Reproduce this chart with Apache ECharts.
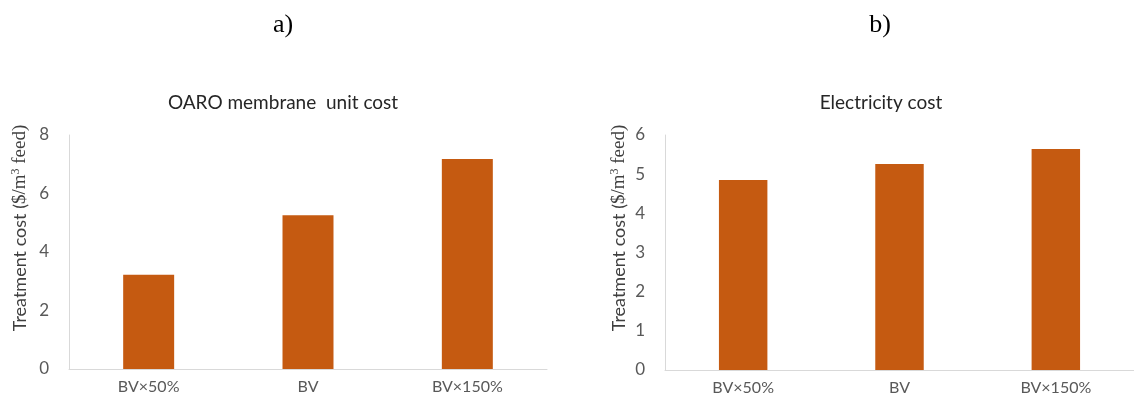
<!DOCTYPE html>
<html>
<head>
<meta charset="utf-8">
<script src="https://cdn.jsdelivr.net/npm/echarts@6/dist/echarts.min.js"></script>
<style>
  html, body { margin: 0; padding: 0; background: #fff; }
  #chart { width: 1134px; height: 405px; }
</style>
</head>
<body>
<div id="chart"></div>
<script>
// categories and values
var categories = ['BV×50%', 'BV', 'BV×150%'];
var membraneCost = [3.22, 5.26, 7.18];
var electricityCost = [4.85, 5.26, 5.64];
var panelLabels = ['a)', 'b)'];
var chartTitles = ['OARO membrane  unit cost', 'Electricity cost'];

var barColor = '#C55A11';
var axisGray = '#d9d9d9';
var textGray = '#595959';
var sans = 'Lato, "Open Sans", sans-serif';
var serif = '"Liberation Serif", "DejaVu Serif", serif';

var chart = echarts.init(document.getElementById('chart'));

function yName(x) {
    return {
        type: 'text',
        x: x,
        y: 228,
        rotation: Math.PI / 2,
        style: {
            text: '{s|Treatment cost (}{r|$/m}{sup|3}{r| feed)}',
            align: 'center',
            verticalAlign: 'middle',
            rich: {
                s: { fontFamily: sans, fontSize: 18, fill: '#404040' },
                r: { fontFamily: serif, fontSize: 19, fill: '#404040' },
                sup: { fontFamily: serif, fontSize: 12, fill: '#404040', verticalAlign: 'top', padding: [0, 0, 9, 0] }
            }
        }
    };
}

function xAxisOf(i) {
    return {
        type: 'category',
        gridIndex: i,
        data: categories,
        axisLine: { lineStyle: { color: axisGray, width: 1 } },
        axisTick: { show: false },
        axisLabel: { color: textGray, fontFamily: sans, fontSize: 16, margin: 10 }
    };
}

function yAxisOf(i, max) {
    return {
        type: 'value',
        gridIndex: i,
        min: 0,
        max: max,
        interval: i === 0 ? 2 : 1,
        axisLine: { show: true, lineStyle: { color: axisGray, width: 1 } },
        axisTick: { show: false },
        splitLine: { show: false },
        axisLabel: { color: textGray, fontFamily: sans, fontSize: 17, margin: 20 }
    };
}

var option = {
    backgroundColor: '#fff',
    animation: false,
    title: [
        { text: panelLabels[0], left: 278, top: 7, textAlign: 'center',
          textStyle: { fontFamily: serif, fontSize: 26, fontWeight: 'normal', color: '#000' } },
        { text: panelLabels[1], left: 875, top: 7, textAlign: 'center',
          textStyle: { fontFamily: serif, fontSize: 26, fontWeight: 'normal', color: '#000' } },
        { text: chartTitles[0], left: 278, top: 88, textAlign: 'center',
          textStyle: { fontFamily: sans, fontSize: 19, fontWeight: 'normal', color: '#262626' } },
        { text: chartTitles[1], left: 876, top: 88, textAlign: 'center',
          textStyle: { fontFamily: sans, fontSize: 19, fontWeight: 'normal', color: '#262626' } }
    ],
    grid: [
        { left: 69, top: 135, width: 478, height: 234 },
        { left: 665, top: 135, width: 478, height: 235 }
    ],
    xAxis: [xAxisOf(0), xAxisOf(1)],
    yAxis: [yAxisOf(0, 8), yAxisOf(1, 6)],
    series: [
        { type: 'bar', xAxisIndex: 0, yAxisIndex: 0, data: membraneCost,
          barWidth: '32%', itemStyle: { color: barColor } },
        { type: 'bar', xAxisIndex: 1, yAxisIndex: 1, data: electricityCost,
          barWidth: '31%', itemStyle: { color: barColor } }
    ],
    graphic: [yName(20), yName(619)]
};

chart.setOption(option);
</script>
</body>
</html>
